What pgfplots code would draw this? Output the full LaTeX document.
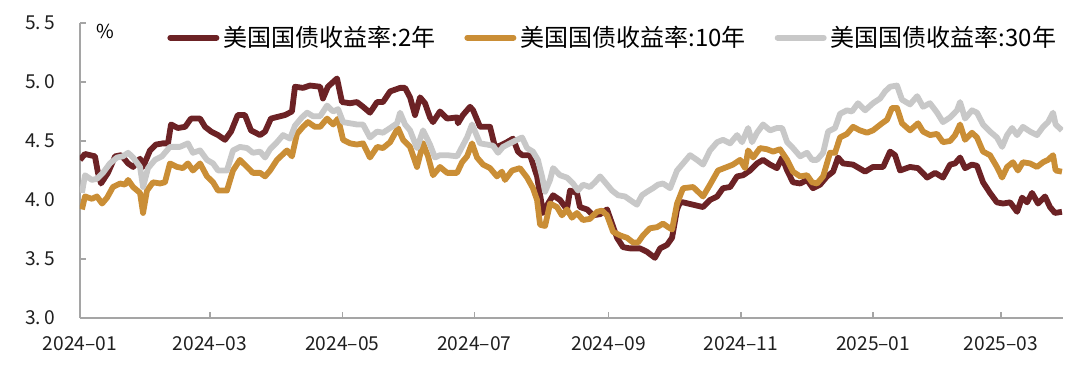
\documentclass[border=0pt]{standalone}
\usepackage{fontspec}
\setmainfont{Noto Sans CJK SC}
\usepackage{pgfplots}
\usepackage{pgfplotstable}
\pgfplotsset{compat=1.18}
\definecolor{cTwo}{RGB}{108,34,37}
\definecolor{cTen}{RGB}{202,142,54}
\definecolor{cThirty}{RGB}{200,200,200}
\definecolor{axgray}{RGB}{165,165,165}

\pgfplotstableread{
d v
0 4.34
2.3 4.39
6.9 4.37
8.3 4.23
9.7 4.14
12.9 4.23
16.2 4.37
19.0 4.38
22.2 4.31
24.5 4.28
27.7 4.35
29.1 4.28
32.3 4.42
35.1 4.47
38.3 4.48
40.6 4.48
42.0 4.64
45.2 4.61
48.5 4.62
51.2 4.69
55.4 4.69
57.7 4.62
60.5 4.58
63.7 4.55
66.9 4.51
69.7 4.58
72.8 4.72
76.1 4.72
78.9 4.59
83.1 4.55
85.4 4.58
88.1 4.69
94.6 4.72
97.8 4.75
99.2 4.96
102.9 4.95
106.1 4.97
110.8 4.96
112.1 4.86
114.4 4.96
118.6 5.03
120.9 4.83
124.6 4.82
127.8 4.83
130.6 4.79
133.8 4.74
137.1 4.83
139.8 4.83
143.1 4.92
147.7 4.95
150.0 4.95
152.3 4.87
154.6 4.72
156.9 4.87
159.2 4.82
161.5 4.70
162.9 4.66
166.1 4.75
169.4 4.69
174.0 4.70
174.4 4.65
176.7 4.72
180.0 4.79
181.4 4.76
184.6 4.62
189.2 4.62
191.5 4.45
193.8 4.46
197.0 4.49
199.8 4.52
202.1 4.41
204.0 4.38
207.7 4.38
210.9 4.20
213.7 3.89
216.0 3.97
218.3 4.04
221.5 4.00
224.7 3.92
226.1 4.08
229.3 4.06
230.7 3.94
234.0 3.92
236.7 3.87
240.0 3.88
243.2 3.92
247.8 3.68
250.6 3.60
253.8 3.59
258.4 3.59
261.7 3.56
265.3 3.51
267.7 3.59
270.9 3.62
273.2 3.68
275.5 3.92
276.9 3.98
278.3 3.98
282.9 3.96
287.5 3.94
290.7 4.00
294.0 4.03
296.7 4.10
300.0 4.11
303.2 4.20
306.0 4.21
309.2 4.25
312.4 4.31
315.2 4.34
318.4 4.30
321.6 4.27
324.0 4.36
326.3 4.25
329.0 4.15
332.3 4.14
335.5 4.17
338.2 4.10
341.5 4.13
344.7 4.20
347.5 4.24
349.8 4.36
352.1 4.31
356.7 4.30
362.3 4.24
365.9 4.28
370.6 4.28
373.8 4.41
376.1 4.38
378.4 4.25
383.0 4.28
386.7 4.27
390.9 4.19
394.6 4.23
398.2 4.19
401.5 4.30
403.8 4.31
406.1 4.36
408.4 4.27
411.6 4.30
413.9 4.29
416.7 4.15
419.9 4.06
423.1 3.98
425.9 3.97
429.2 3.98
432.4 3.90
434.7 4.02
437.0 3.98
439.3 4.06
442.1 3.97
445.3 4.03
447.6 3.94
449.9 3.89
453.1 3.90
}\tabTwo

\pgfplotstableread{
d v
0.9 3.92
2.3 4.03
5.5 4.01
7.8 4.03
10.2 3.97
12.5 4.02
15.2 4.11
18.5 4.14
20.8 4.13
22.2 4.17
24.5 4.11
27.7 4.06
29.1 3.89
30.9 4.08
33.7 4.15
36.9 4.14
39.2 4.15
41.5 4.31
44.8 4.28
47.5 4.27
49.8 4.31
52.1 4.25
55.4 4.31
58.6 4.20
61.4 4.15
63.7 4.08
67.8 4.08
70.6 4.25
73.8 4.34
77.1 4.28
79.8 4.23
83.1 4.23
85.4 4.20
87.7 4.25
90.9 4.34
93.2 4.38
95.5 4.42
97.8 4.37
100.1 4.56
102.9 4.62
105.2 4.66
108.4 4.62
110.8 4.62
114.0 4.69
116.8 4.64
119.1 4.69
121.4 4.51
124.6 4.48
127.8 4.47
130.6 4.48
133.8 4.36
137.1 4.45
139.8 4.44
143.1 4.49
146.7 4.61
149.1 4.51
152.3 4.45
155.5 4.28
158.3 4.48
160.6 4.37
162.9 4.21
166.1 4.28
169.4 4.23
174.0 4.23
176.3 4.32
178.6 4.37
180.9 4.48
183.2 4.36
186.0 4.30
189.2 4.27
192.4 4.20
194.7 4.24
196.1 4.17
199.4 4.25
203.0 4.27
206.3 4.19
209.0 4.10
210.9 4.00
212.3 3.79
214.6 3.78
216.9 3.97
220.1 3.94
222.4 3.87
224.7 3.92
227.0 3.85
229.3 3.89
232.1 3.83
235.3 3.84
238.6 3.90
240.9 3.91
243.2 3.87
246.0 3.73
249.2 3.70
252.4 3.68
255.2 3.64
257.5 3.64
259.8 3.70
263.0 3.76
266.3 3.77
269.0 3.80
271.4 3.77
273.2 3.75
275.5 3.97
278.3 4.10
282.9 4.11
287.5 4.03
290.7 4.13
294.4 4.25
298.6 4.28
301.3 4.30
304.6 4.34
306.9 4.27
308.3 4.42
310.6 4.36
313.8 4.44
317.0 4.43
319.8 4.41
323.0 4.43
326.3 4.34
329.0 4.24
332.3 4.20
335.5 4.21
337.8 4.15
340.1 4.14
342.9 4.20
346.1 4.40
348.4 4.40
350.7 4.53
353.9 4.56
356.7 4.62
359.9 4.59
363.2 4.57
365.9 4.59
370.1 4.65
372.4 4.68
374.7 4.78
377.0 4.78
379.3 4.65
383.0 4.59
386.7 4.65
389.0 4.58
392.2 4.55
395.5 4.56
398.2 4.49
401.5 4.50
403.8 4.55
406.1 4.64
408.4 4.51
411.6 4.57
413.9 4.53
416.7 4.41
419.9 4.38
423.1 4.28
425.5 4.19
427.8 4.28
430.5 4.32
432.8 4.25
435.1 4.32
438.4 4.31
441.6 4.28
444.4 4.32
446.7 4.34
449.0 4.38
450.2 4.25
453.1 4.24
}\tabTen

\pgfplotstableread{
d v
0.9 4.06
2.3 4.21
5.5 4.17
7.8 4.18
10.6 4.23
13.8 4.31
17.1 4.36
19.8 4.37
22.2 4.40
24.5 4.36
27.7 4.28
29.1 4.11
31.4 4.27
34.6 4.34
37.8 4.37
41.5 4.45
46.1 4.45
49.8 4.48
52.1 4.40
55.4 4.42
58.6 4.34
61.4 4.31
63.7 4.25
67.8 4.25
70.6 4.42
73.8 4.45
77.1 4.44
79.8 4.40
83.1 4.41
85.4 4.36
87.7 4.43
90.9 4.49
93.7 4.55
96.9 4.52
99.2 4.63
102.4 4.70
104.8 4.74
107.5 4.71
110.8 4.71
114.0 4.80
116.8 4.75
119.1 4.77
121.4 4.66
124.6 4.65
127.8 4.64
130.6 4.64
133.8 4.53
137.1 4.58
139.8 4.57
143.1 4.61
146.3 4.65
147.7 4.74
150.0 4.64
152.3 4.59
155.5 4.44
158.3 4.59
161.5 4.47
163.8 4.36
166.1 4.38
169.4 4.38
174.0 4.37
176.3 4.45
178.6 4.53
180.9 4.64
184.6 4.48
187.8 4.47
190.6 4.46
192.9 4.40
195.2 4.45
198.4 4.48
201.7 4.51
204.0 4.53
206.3 4.44
209.0 4.41
211.3 4.34
213.2 4.20
214.6 4.07
216.9 4.17
218.3 4.27
221.5 4.21
224.7 4.19
227.5 4.14
229.8 4.08
232.1 4.13
235.3 4.11
237.6 4.15
240.0 4.20
242.3 4.15
245.5 4.08
248.3 4.04
251.5 4.03
253.8 4.00
257.0 3.96
259.3 4.04
261.7 4.07
264.4 4.10
266.7 4.13
269.0 4.14
272.3 4.10
275.5 4.25
278.3 4.31
281.5 4.38
284.7 4.34
287.5 4.30
290.7 4.42
294.0 4.49
296.7 4.51
300.0 4.48
303.2 4.55
305.5 4.49
308.3 4.61
310.1 4.49
312.4 4.57
315.2 4.64
318.4 4.59
321.6 4.61
324.0 4.61
326.3 4.49
329.0 4.44
332.3 4.37
335.5 4.40
337.8 4.34
340.1 4.34
342.9 4.40
345.2 4.58
348.4 4.61
350.7 4.73
353.9 4.76
356.2 4.75
359.0 4.82
362.3 4.76
365.9 4.82
369.2 4.86
371.5 4.92
373.8 4.96
377.0 4.97
379.3 4.85
383.0 4.81
386.3 4.88
389.0 4.79
392.2 4.82
395.5 4.74
398.2 4.66
401.5 4.70
404.7 4.76
406.1 4.83
408.4 4.69
411.6 4.76
413.9 4.74
416.7 4.64
419.9 4.58
423.1 4.53
425.5 4.45
427.8 4.55
430.1 4.61
432.4 4.55
435.1 4.62
438.4 4.58
441.6 4.55
444.4 4.62
446.7 4.66
449.0 4.74
450.2 4.64
453.1 4.59
}\tabThirty

\begin{document}
\begin{tikzpicture}
\begin{axis}[
  at={(0,0)}, anchor=south west,
  scale only axis,
  width=491.5pt, height=147.5pt,
  xmin=0, xmax=453.6,
  ymin=3, ymax=5.5,
  axis lines*=left,
  axis line style={draw=axgray, line width=0.7pt},
  tick style={draw=axgray, line width=0.7pt},
  tick align=inside,
  major tick length=3pt,
  xtick={0,60,121,182,244,305,366,425},
  xticklabels={2024--01,2024--03,2024--05,2024--07,2024--09,2024--11,2025--01,2025--03},
  ytick={3,3.5,4,4.5,5,5.5},
  yticklabels={3.\,0,3.\,5,4.\,0,4.\,5,5.\,0,5.\,5},
  ticklabel style={font=\fontsize{9.6}{11}\selectfont, text=black!88},
  xticklabel style={yshift=-5.5pt},
  yticklabel style={xshift=-9pt},
  /pgf/number format/assume math mode=true,
  legend columns=3,
  legend style={draw=none, fill=none, at={(rel axis cs:0.0885,0.95)}, anchor=west,
    font=\fontsize{12}{14}\selectfont, inner sep=0pt,
    /tikz/every even column/.append style={column sep=12.5pt}},
  legend cell align=left,
  legend image code/.code={\draw[#1, line width=3pt, line cap=round] (0pt,0pt) -- (23pt,0pt);},
  every axis plot/.append style={line width=2.9pt, line join=round},
]
\addplot[cTwo, no markers] table[x=d, y=v] {\tabTwo};
\addlegendentry{美国国债收益率:2年}
\addplot[cTen, no markers] table[x=d, y=v] {\tabTen};
\addlegendentry{美国国债收益率:10年}
\addplot[cThirty, no markers] table[x=d, y=v] {\tabThirty};
\addlegendentry{美国国债收益率:30年}
\node[anchor=center, font=\fontsize{9.6}{11}\selectfont] at (rel axis cs:0.026,0.97) {\%};
\end{axis}
\useasboundingbox (-40pt,-25pt) rectangle (500pt,159pt);
\end{tikzpicture}
\end{document}
